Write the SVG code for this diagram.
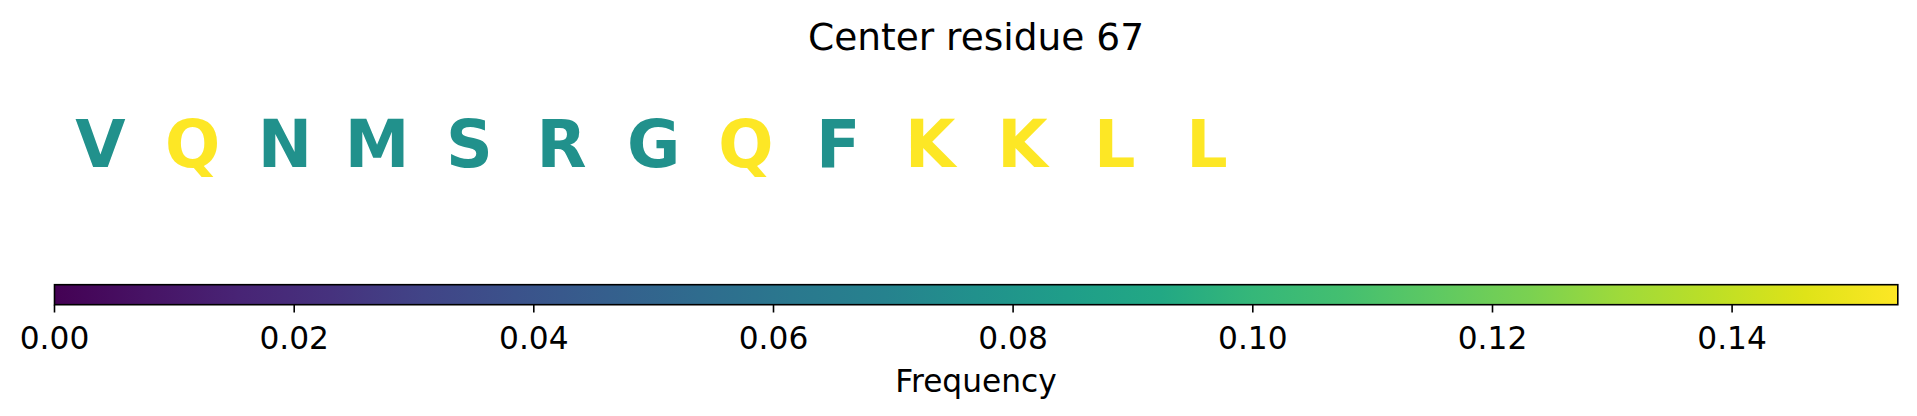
<svg xmlns="http://www.w3.org/2000/svg" width="1917" height="416" viewBox="0 0 1917 416">
<style>
text{font-family:"DejaVu Sans","Liberation Sans",sans-serif;}
.title{font-size:37.5px;fill:#000;text-anchor:middle;}
.res{font-size:65px;font-weight:bold;text-anchor:middle;}
.mid{fill:#21918c;}
.max{fill:#fde725;}
.tick{stroke:#000;stroke-width:1.6;}
.tl{font-size:31.25px;fill:#000;text-anchor:middle;}
</style>
<defs>
<linearGradient id="viridis" x1="0" y1="0" x2="1" y2="0">
<stop offset="0" stop-color="#440154"/>
<stop offset="0.05" stop-color="#471365"/>
<stop offset="0.1" stop-color="#482475"/>
<stop offset="0.15" stop-color="#46327e"/>
<stop offset="0.2" stop-color="#414487"/>
<stop offset="0.25" stop-color="#3b528b"/>
<stop offset="0.3" stop-color="#355f8d"/>
<stop offset="0.35" stop-color="#2f6c8e"/>
<stop offset="0.4" stop-color="#2a788e"/>
<stop offset="0.45" stop-color="#26828e"/>
<stop offset="0.5" stop-color="#21918c"/>
<stop offset="0.55" stop-color="#1f9e89"/>
<stop offset="0.6" stop-color="#22a884"/>
<stop offset="0.65" stop-color="#35b779"/>
<stop offset="0.7" stop-color="#44bf70"/>
<stop offset="0.75" stop-color="#5ec962"/>
<stop offset="0.8" stop-color="#7ad151"/>
<stop offset="0.85" stop-color="#9fda3a"/>
<stop offset="0.9" stop-color="#bddf26"/>
<stop offset="0.95" stop-color="#dfe318"/>
<stop offset="1" stop-color="#fde725"/>
</linearGradient>
</defs>
<rect width="1917" height="416" fill="#fff"/>
<g id="title"><text class="title" x="976" y="50">Center residue 67</text></g>
<g id="residues">
<text class="res mid" x="100.5" y="166.7">V</text>
<text class="res max" x="192.7" y="166.7">Q</text>
<text class="res mid" x="284.9" y="166.7">N</text>
<text class="res mid" x="377.1" y="166.7">M</text>
<text class="res mid" x="469.3" y="166.7">S</text>
<text class="res mid" x="561.5" y="166.7">R</text>
<text class="res mid" x="653.7" y="166.7">G</text>
<text class="res max" x="745.9" y="166.7">Q</text>
<text class="res mid" x="838.1" y="166.7">F</text>
<text class="res max" x="930.3" y="166.7">K</text>
<text class="res max" x="1022.5" y="166.7">K</text>
<text class="res max" x="1114.7" y="166.7">L</text>
<text class="res max" x="1206.9" y="166.7">L</text>
</g>
<g id="colorbar">
<rect x="54.5" y="284.7" width="1843.3" height="20" fill="url(#viridis)" stroke="#000" stroke-width="1.6"/>
<g id="ticks">
<line class="tick" x1="54.5" y1="304.7" x2="54.5" y2="312.5"/>
<line class="tick" x1="294.2" y1="304.7" x2="294.2" y2="312.5"/>
<line class="tick" x1="533.8" y1="304.7" x2="533.8" y2="312.5"/>
<line class="tick" x1="773.5" y1="304.7" x2="773.5" y2="312.5"/>
<line class="tick" x1="1013.1" y1="304.7" x2="1013.1" y2="312.5"/>
<line class="tick" x1="1252.8" y1="304.7" x2="1252.8" y2="312.5"/>
<line class="tick" x1="1492.5" y1="304.7" x2="1492.5" y2="312.5"/>
<line class="tick" x1="1732.1" y1="304.7" x2="1732.1" y2="312.5"/>
</g>
<g id="ticklabels">
<text class="tl" x="54.5" y="349">0.00</text>
<text class="tl" x="294.2" y="349">0.02</text>
<text class="tl" x="533.8" y="349">0.04</text>
<text class="tl" x="773.5" y="349">0.06</text>
<text class="tl" x="1013.1" y="349">0.08</text>
<text class="tl" x="1252.8" y="349">0.10</text>
<text class="tl" x="1492.5" y="349">0.12</text>
<text class="tl" x="1732.1" y="349">0.14</text>
</g>
<text class="tl" x="976" y="391.7">Frequency</text>
</g>
</svg>
